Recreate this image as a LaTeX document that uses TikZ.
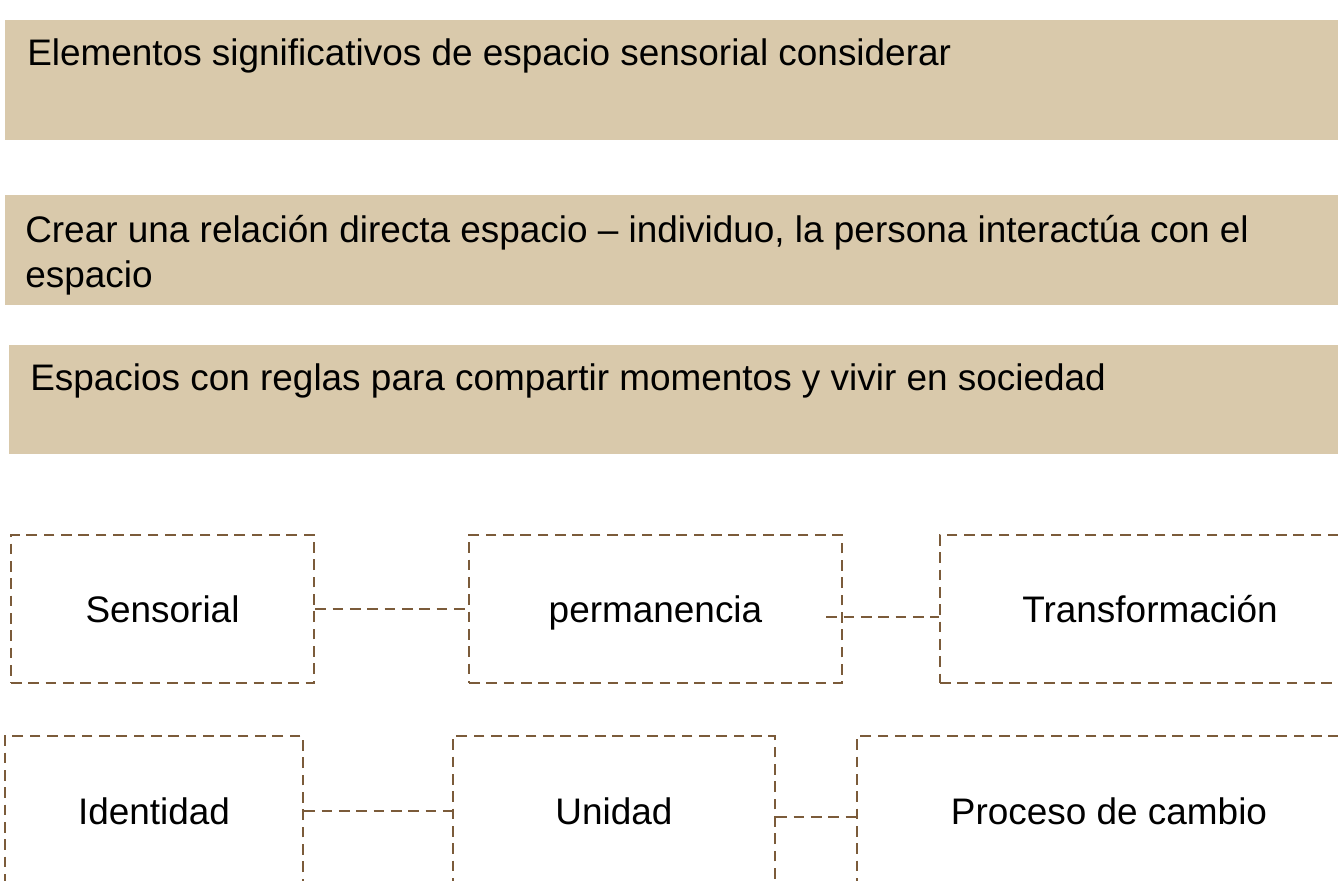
\documentclass[tikz,border=0pt]{standalone}
\usepackage{fontspec}
\setmainfont{Liberation Sans}
\usetikzlibrary{positioning}
\definecolor{bannertan}{HTML}{D9C9AB}
\definecolor{dashbrown}{HTML}{7B5B3A}
\tikzset{
  bannertext/.style={anchor=base west,inner sep=0pt,align=left,font=\fontsize{27.7}{33.75}\selectfont},
  dbox/.style={draw=dashbrown,line width=1.8pt,dash pattern=on 8pt off 5pt,inner sep=0pt,
    text height=20pt,text depth=0pt,font=\fontsize{27.7}{33.75}\selectfont},
  link/.style={draw=dashbrown,line width=1.8pt,dash pattern=on 8pt off 5pt}
}
\begin{document}
\begin{tikzpicture}[x=0.75pt,y=-0.75pt]
       \useasboundingbox (0,0) rectangle (1338,881);
       % banners
       \fill[bannertan] (5,20) rectangle (1338,140);
       \fill[bannertan] (5,195) rectangle (1338,305);
       \fill[bannertan] (9,345) rectangle (1338,454);
       \node[bannertext] (elem) at (27,65) {Elementos significativos de espacio sensorial considerar};
       \node[bannertext] (crear) at (25,287) {Crear una relación directa espacio – individuo, la persona interactúa con el\\espacio};
       \node[bannertext] (regla) at (30,390) {Espacios con reglas para compartir momentos y vivir en sociedad};
       % dashed boxes
       \node[dbox,minimum width=227.25pt,minimum height=111pt] (sens) at (162.5,609) {Sensorial};
       \node[dbox,minimum width=279.75pt,minimum height=111pt] (perm) at (655.5,609) {permanencia};
       \node[dbox,minimum width=315pt,minimum height=111pt] (trans) at (1150,609) {Transformación};
       \node[dbox,minimum width=223.5pt,minimum height=112.5pt] (iden) at (154,811) {Identidad};
       \node[dbox,minimum width=241.5pt,minimum height=112.5pt] (unid) at (614,811) {Unidad};
       \node[dbox,minimum width=378pt,minimum height=112.5pt] (proc) at (1109,811) {Proceso de cambio};
       \draw[link] (sens.east) -- (perm.west);
       \draw[link] ([xshift=-12.75pt,yshift=-6pt]perm.east) -- ([yshift=-6pt]trans.west);
       \draw[link] (iden.east) -- (unid.west);
       \draw[link] ([yshift=-4.5pt]unid.east) -- ([yshift=-4.5pt]proc.west);
\end{tikzpicture}
\end{document}
